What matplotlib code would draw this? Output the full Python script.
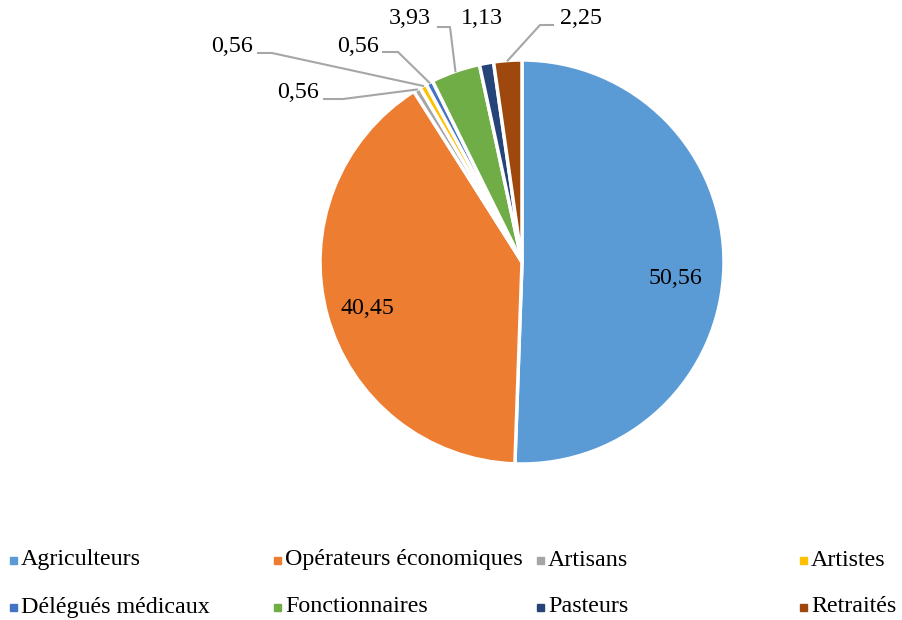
import numpy as np
import matplotlib
matplotlib.use("Agg")
import matplotlib.pyplot as plt
from matplotlib.patches import Rectangle

plt.rcParams['font.family'] = ['Liberation Serif', 'DejaVu Serif']

labels = ['Agriculteurs', 'Opérateurs économiques', 'Artisans', 'Artistes',
          'Délégués médicaux', 'Fonctionnaires', 'Pasteurs', 'Retraités']
values = [50.56, 40.45, 0.56, 0.56, 0.56, 3.93, 1.13, 2.25]
colors = ['#5B9BD5', '#ED7D31', '#A5A5A5', '#FFC000',
          '#4472C4', '#70AD47', '#264478', '#9E480E']

W, H = 903, 620
cx, cy, R = 522, 262, 202


def px(x, y):
    # pixel -> data coords (pie radius 1)
    return (x - cx) / R, (cy - y) / R


fig = plt.figure(figsize=(W / 100, H / 100), dpi=100)
ax = fig.add_axes([0, 0, 1, 1])
wedges, _ = ax.pie(values, colors=colors, startangle=90, counterclock=False,
                   radius=1, wedgeprops=dict(edgecolor='white', linewidth=2.5))
ax.set_xlim(-cx / R, (W - cx) / R)
ax.set_ylim((cy - H) / R, cy / R)
ax.set_aspect('auto')
ax.axis('off')

fs = 17.3
txt = [("%.2f" % v).replace('.', ',') for v in values]

# big labels inside
for i, (x, y) in [(0, (675, 279)), (1, (367, 309))]:
    ax.text(*px(x, y), txt[i], ha='center', va='center', fontsize=fs)

# small labels with leader lines: (index, text pos, elbow points)
small = [
    (2, (298, 92), [(324, 99), (343, 99)]),
    (3, (232, 47), [(258, 53), (272, 53)]),
    (4, (358, 47), [(383, 52), (398, 52)]),
    (5, (410, 18), [(438, 27), (450, 27)]),
    (6, (482, 19), []),
    (7, (581, 18), [(553, 25), (540, 25)]),
]
cum = np.cumsum([0] + values)
for i, tpos, elbow in small:
    ax.text(*px(*tpos), txt[i], ha='center', va='center', fontsize=fs)
    if elbow:
        mid = 90 - 360 * (cum[i] + cum[i + 1]) / 2 / sum(values)
        ex = np.cos(np.radians(mid)) * 1.0
        ey = np.sin(np.radians(mid)) * 1.0
        pts = [px(*p) for p in elbow] + [(ex, ey)]
        ax.plot([p[0] for p in pts], [p[1] for p in pts], color='#A6A6A6', lw=1.5)

# legend laid out like the original (fixed column slots)
colx = [10, 274, 537, 800]
rowy = [560, 607]
for i, lab in enumerate(labels):
    x, y = colx[i % 4], rowy[i // 4]
    fig.patches.append(Rectangle((x / W, 1 - (y + 4) / H), 7 / W, 7 / H,
                                 transform=fig.transFigure, color=colors[i]))
    fig.text((x + 11) / W, 1 - y / H, lab, ha='left', va='center', fontsize=fs)

fig.savefig('out.png', dpi=100)
